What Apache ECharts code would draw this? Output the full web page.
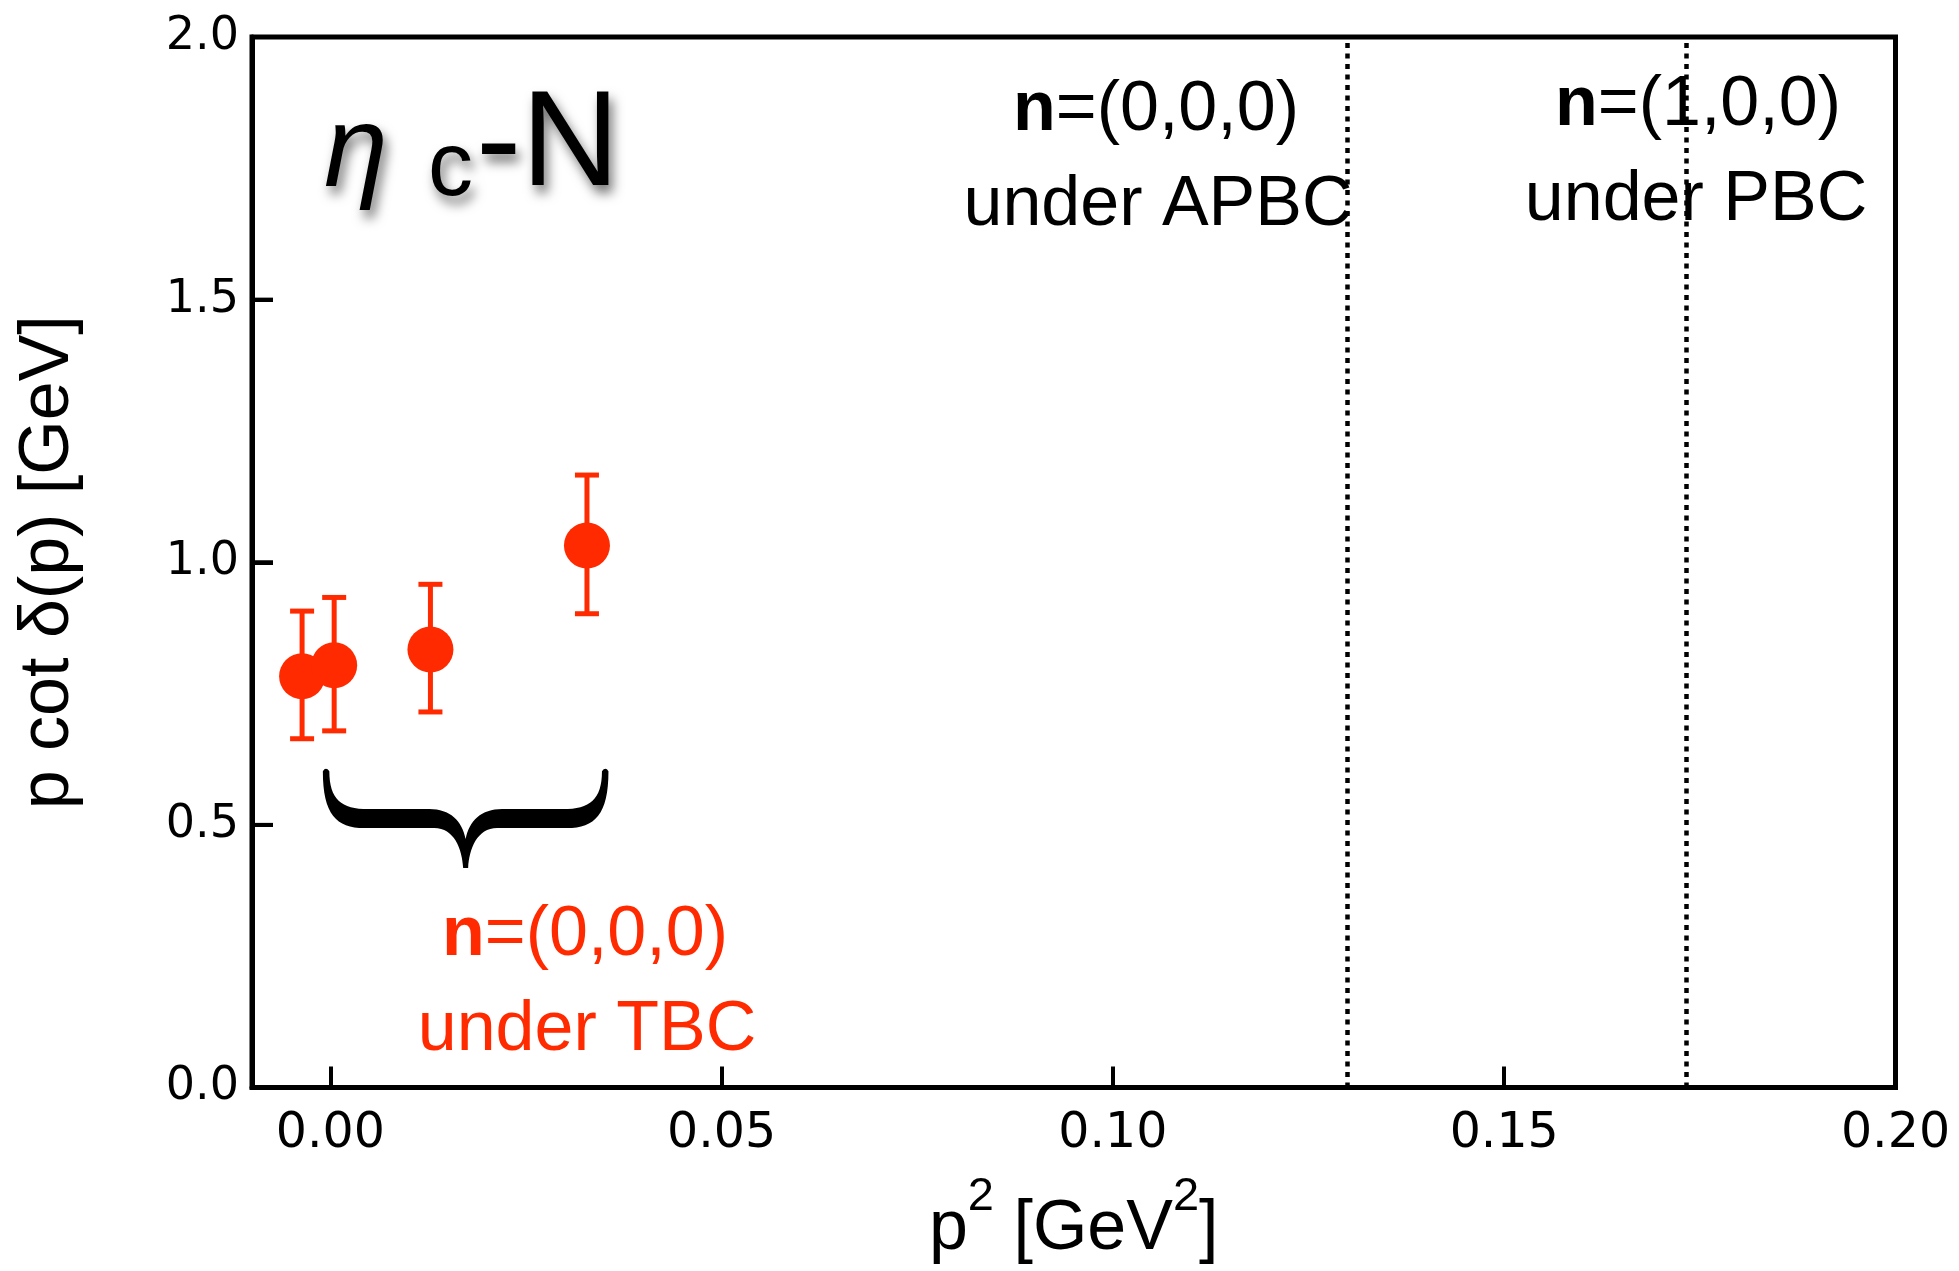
<!DOCTYPE html>
<html>
<head>
<meta charset="utf-8">
<script src="https://cdn.jsdelivr.net/npm/echarts@6/dist/echarts.min.js"></script>
<style>
html,body{margin:0;padding:0;background:#fff;}
#chart{width:1959px;height:1271px;}
</style>
</head>
<body>
<div id="chart"></div>
<script>
// ---- data ----
const xTicks = [0, 0.05, 0.10, 0.15, 0.20];
const yTicks = [0, 0.5, 1.0, 1.5, 2.0];
const p2 = [-0.0036, 0.0005, 0.0128, 0.0328];
const pcot = [0.783, 0.804, 0.834, 1.032];
const errLo = [0.664, 0.679, 0.715, 0.902];
const errHi = [0.907, 0.933, 0.958, 1.166];
const boundaryLines = [0.13, 0.1733];
const braceSpan = [-0.0005, 0.0351];
const braceTop = 0.606;
const braceTip = 0.418;
const X_MIN = -0.01, X_MAX = 0.2, Y_MIN = 0, Y_MAX = 2;

const RED = '#ff2a00';
const FONT = '"Liberation Sans", Arial, sans-serif';
const TICKFONT = '"DejaVu Sans", sans-serif';

const points = p2.map((x, i) => [x, pcot[i]]);
const errData = p2.map((x, i) => [x, pcot[i], errLo[i], errHi[i]]);

// brace outline in local units (width 279, height 99)
const BW = 279, BH = 99;
const bracePath = [
  ['M', -3.5, 2],
  ['C', -3.5, 45, 10, 59, 38, 59],
  ['L', 108, 59],
  ['C', 128, 59, 136, 80, 137, 99],
  ['L', 142, 99],
  ['C', 143, 80, 151, 59, 171, 59],
  ['L', 241, 59],
  ['C', 269, 59, 282.5, 45, 282.5, 2],
  ['Q', 279.5, -3, 276, 2],
  ['C', 276, 30, 264, 40, 237, 40],
  ['L', 176, 40],
  ['C', 155, 40, 143, 52, 139.5, 70],
  ['C', 136, 52, 124, 40, 103, 40],
  ['L', 42, 40],
  ['C', 15, 40, 3, 30, 3, 2],
  ['Q', -0.5, -3, -3.5, 2],
  ['Z']
];

const chart = echarts.init(document.getElementById('chart'));

const shadow = {textShadowColor: 'rgba(0,0,0,0.55)', textShadowBlur: 12, textShadowOffsetX: 4, textShadowOffsetY: 8};
const ANN = 70;

const textGraphics = [
  // title  η c-N
  {type: 'text', x: 324, y: 154, z: 10, style: Object.assign({
    text: 'η', font: 'italic 115px ' + FONT, fill: '#000', align: 'left', verticalAlign: 'middle'}, shadow)},
  {type: 'text', x: 428, y: 170, z: 10, style: Object.assign({
    text: 'c', font: '90px ' + FONT, fill: '#000', align: 'left', verticalAlign: 'middle'}, shadow)},
  {type: 'text', x: 476, y: 147, z: 10, style: Object.assign({
    text: '-N', font: '136px ' + FONT, fill: '#000', align: 'left', verticalAlign: 'middle'}, shadow)},
  // annotations
  {type: 'text', x: 1156, y: 111, z: 10, style: {
    text: '{b|n}=(0,0,0)', font: ANN + 'px ' + FONT, fill: '#000', align: 'center', verticalAlign: 'middle',
    rich: {b: {fontWeight: 'bold', fontSize: ANN, fontFamily: FONT, fill: '#000'}}}},
  {type: 'text', x: 1158, y: 206, z: 10, style: {
    text: 'under APBC', font: ANN + 'px ' + FONT, fill: '#000', align: 'center', verticalAlign: 'middle'}},
  {type: 'text', x: 1698, y: 106, z: 0, style: {
    text: '{b|n}=(1,0,0)', font: ANN + 'px ' + FONT, fill: '#000', align: 'center', verticalAlign: 'middle',
    rich: {b: {fontWeight: 'bold', fontSize: ANN, fontFamily: FONT, fill: '#000'}}}},
  {type: 'text', x: 1696, y: 201, z: 0, style: {
    text: 'under PBC', font: ANN + 'px ' + FONT, fill: '#000', align: 'center', verticalAlign: 'middle'}},
  {type: 'text', x: 585, y: 936, z: 10, style: {
    text: '{b|n}=(0,0,0)', font: ANN + 'px ' + FONT, fill: RED, align: 'center', verticalAlign: 'middle',
    rich: {b: {fontWeight: 'bold', fontSize: ANN, fontFamily: FONT, fill: RED}}}},
  {type: 'text', x: 587, y: 1031, z: 10, style: {
    text: 'under TBC', font: ANN + 'px ' + FONT, fill: RED, align: 'center', verticalAlign: 'middle'}}
];

const option = {
  animation: false,
  grid: {
    left: 252, top: 37, width: 1643.5, height: 1050.5,
    show: true, borderColor: '#000', borderWidth: 5
  },
  xAxis: {
    type: 'value', min: X_MIN, max: X_MAX,
    axisLine: {show: true, onZero: false, lineStyle: {color: '#000', width: 5}},
    splitLine: {show: false},
    axisTick: {show: true, inside: true, length: 21, lineStyle: {color: '#000', width: 4}, customValues: xTicks},
    axisLabel: {
      customValues: xTicks,
      formatter: v => v.toFixed(2),
      fontFamily: TICKFONT, fontSize: 49, color: '#000', margin: 22
    },
    name: '{a|p}{s|2}{a| [GeV}{s|2}{a|]}',
    nameLocation: 'middle', nameGap: 86,
    nameTextStyle: {
      color: '#000', fontFamily: FONT, fontSize: 70,
      rich: {
        a: {fontFamily: FONT, fontSize: 70, lineHeight: 112, color: '#000'},
        s: {fontFamily: FONT, fontSize: 47, lineHeight: 46, verticalAlign: 'top', color: '#000'}
      }
    }
  },
  yAxis: [
    {
      type: 'value', min: Y_MIN, max: Y_MAX, interval: 0.5,
      axisLine: {show: true, onZero: false, lineStyle: {color: '#000', width: 5}},
      splitLine: {show: false},
      axisTick: {show: true, inside: true, length: 21, lineStyle: {color: '#000', width: 4}},
      axisLabel: {
        formatter: v => v.toFixed(1),
        fontFamily: TICKFONT, fontSize: 46, color: '#000', margin: 13
      },
      name: 'p cot δ(p) [GeV]',
      nameLocation: 'middle', nameGap: 168,
      nameTextStyle: {color: '#000', fontFamily: FONT, fontSize: 70}
    },
    {
      // tick-only companion axis on the same left edge
      type: 'value', min: Y_MIN, max: Y_MAX, interval: 0.5,
      position: 'left', offset: 0, z: 10,
      axisLine: {show: false, onZero: false},
      splitLine: {show: false},
      axisLabel: {show: false},
      axisTick: {show: true, inside: true, length: 21, lineStyle: {color: '#000', width: 4}}
    }
  ],
  series: [
    {
      type: 'custom',
      name: 'err',
      data: errData,
      encode: {x: 0, y: [1, 2, 3]},
      z: 2,
      renderItem: function (params, api) {
        const x = api.value(0);
        const lo = api.coord([x, api.value(2)]);
        const hi = api.coord([x, api.value(3)]);
        const cap = 12;
        const st = {stroke: RED, lineWidth: 5};
        return {
          type: 'group',
          children: [
            {type: 'line', shape: {x1: lo[0], y1: lo[1], x2: hi[0], y2: hi[1]}, style: st},
            {type: 'line', shape: {x1: lo[0] - cap, y1: lo[1], x2: lo[0] + cap, y2: lo[1]}, style: st},
            {type: 'line', shape: {x1: hi[0] - cap, y1: hi[1], x2: hi[0] + cap, y2: hi[1]}, style: st}
          ]
        };
      }
    },
    {
      type: 'scatter',
      name: 'TBC',
      data: points,
      symbol: 'circle',
      symbolSize: 46,
      itemStyle: {color: RED, opacity: 1},
      z: 3,
      markLine: {
        silent: true,
        symbol: 'none',
        precision: 4,
        label: {show: false},
        lineStyle: {type: [5, 5.5], width: 4.5, color: '#000'},
        data: boundaryLines.map(v => ({xAxis: v}))
      }
    },
    {
      type: 'custom',
      name: 'brace',
      data: [[braceSpan[0], braceSpan[1], braceTop, braceTip]],
      encode: {x: [0, 1], y: [2, 3]},
      z: 2,
      renderItem: function (params, api) {
        const p0 = api.coord([api.value(0), api.value(2)]);
        const p1 = api.coord([api.value(1), api.value(3)]);
        const sx = (p1[0] - p0[0]) / BW;
        const sy = (p1[1] - p0[1]) / BH;
        let d = '';
        bracePath.forEach(cmd => {
          d += cmd[0];
          for (let k = 1; k < cmd.length; k += 2) {
            const px = p0[0] + cmd[k] * sx;
            const py = p0[1] + cmd[k + 1] * sy;
            d += ' ' + px.toFixed(2) + ' ' + py.toFixed(2);
          }
          d += ' ';
        });
        return {type: 'path', shape: {pathData: d}, style: {fill: '#000'}};
      }
    }
  ],
  graphic: textGraphics
};

chart.setOption(option);

// left-axis inner tick marks as filled rects (same geometry as the axis ticks)
try {
  const tickGraphics = yTicks.map(v => {
    const p = chart.convertToPixel({xAxisIndex: 0, yAxisIndex: 0}, [X_MIN, v]);
    return {type: 'rect', z: 30, silent: true,
      shape: {x: p[0], y: p[1] - 2, width: 21, height: 4},
      style: {fill: '#000'}};
  });
  chart.setOption({graphic: textGraphics.concat(tickGraphics)});
} catch (e) {}
</script>
</body>
</html>
